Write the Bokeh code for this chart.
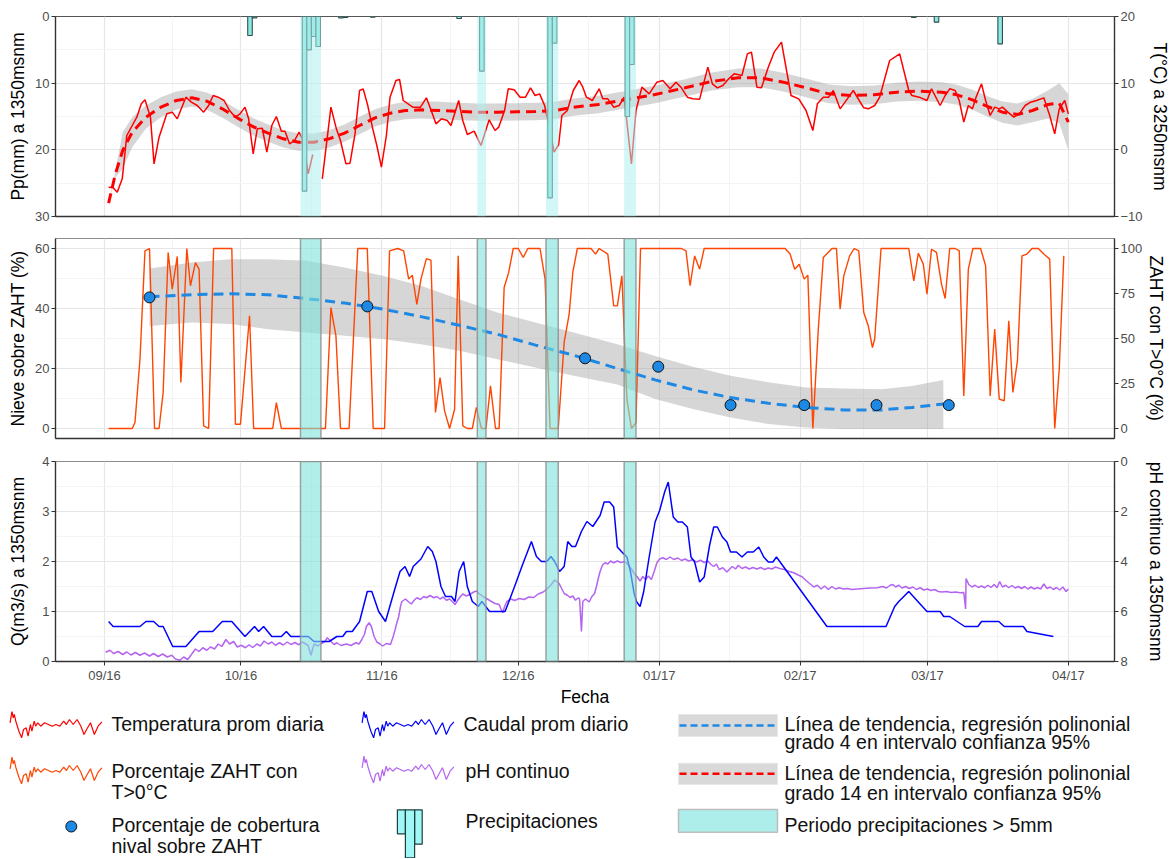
import pandas as pd
from bokeh.plotting import figure
from bokeh.layouts import column
from bokeh.models import Range1d, LinearAxis, FixedTicker, BoxAnnotation
from bokeh.embed import file_html
from bokeh.resources import INLINE
from bokeh.core.properties import value

NAN = float("nan")

# ---------------------------------------------------------------- data
ORIGIN = "2016-09-01"  # every x value below = days since this date
tick_dates = ["2016-09-01", "2016-10-01", "2016-11-01", "2016-12-01",
              "2017-01-01", "2017-02-01", "2017-03-01", "2017-04-01"]
tick_labels = ["09/16", "10/16", "11/16", "12/16", "01/17", "02/17", "03/17", "04/17"]

# daily mean temperature at 3250 masl (°C); NaN = missing
temp_pts = [(0.9, -5.6), (1.9, -5.7), (2.8, -6.35), (3.9, -4.35), (4.9, 2.15), (6.1, 3.65), (7.1, 4.9),
            (8.1, 6.9), (8.9, 7.5), (10.1, 4.9), (10.9, -2.1), (12.0, 1.9), (13.7, 5.4), (14.9, 5.65),
            (16.0, 4.65), (17.9, 7.9), (19.1, 7.15), (20.4, 6.65), (21.8, 5.65), (22.9, 6.65), (23.9, 8.15),
            (25.0, 7.9), (26.3, 7.4), (27.5, 5.9), (28.8, 4.9), (29.8, 5.4), (30.9, 6.4), (31.7, 4.65),
            (32.7, -0.6), (33.6, 3.15), (34.7, 3.25), (35.7, -0.35), (36.8, 3.65), (37.8, 5.0), (38.9, 2.8),
            (39.7, 2.8), (40.7, 0.9), (41.8, 1.4), (42.8, 2.65), (43.7, 1.4), (44.8, -3.6), (45.8, -0.7),
            (46.8, NAN), (47.9, -4.35), (49.8, 6.4), (51.0, 3.15), (51.9, 1.4), (53.1, -2.1), (54.0, -2.0),
            (55.1, 2.4), (56.1, 8.9), (56.9, 9.15), (57.9, 6.65), (59.0, 3.15), (59.9, 0.65), (60.9, -2.6),
            (62.0, 2.15), (62.8, 7.9), (64.1, 10.4), (64.9, 10.55), (65.7, 7.4), (67.8, 6.4), (69.5, 6.4),
            (70.8, 7.8), (72.0, 5.65), (72.9, 3.9), (74.1, 4.65), (75.4, 4.4), (76.2, 3.65), (77.9, 7.4),
            (78.8, 4.4), (79.8, 2.3), (81.3, 2.8), (82.8, 0.65), (84.6, 4.5), (85.9, 2.9), (86.7, 3.4),
            (88.0, 5.9), (88.8, 9.15), (90.1, 9.0), (91.4, 7.9), (92.6, 7.9), (93.7, 9.3), (94.7, 8.15),
            (95.7, 8.4), (96.8, 6.65), (98.1, 2.5), (98.9, -0.35), (99.9, 0.8), (100.6, 5.15), (101.8, 5.9),
            (103.1, 8.9), (104.4, 10.4), (105.2, 9.4), (106.0, 7.9), (107.3, 7.4), (108.8, 9.15), (109.6, 7.65),
            (110.7, 7.65), (112.0, 6.4), (113.2, 6.65), (114.3, 7.9), (115.9, -2.1), (116.9, 5.9), (118.2, 9.4),
            (119.8, 8.4), (121.5, 10.15), (122.8, 10.4), (124.4, 9.15), (125.7, 10.15), (126.9, 9.3),
            (128.2, 7.9), (129.4, 7.65), (130.9, 7.6), (132.7, 12.4), (133.7, 9.9), (134.8, 9.3), (136.0, 9.65),
            (137.3, 10.65), (138.5, 11.4), (140.2, 11.15), (141.4, 14.4), (142.3, 14.65), (143.5, 9.4),
            (144.5, 9.3), (146.0, 12.4), (147.3, 14.65), (148.9, 16.15), (151.0, 8.15), (152.7, 7.65),
            (154.3, 5.9), (155.8, 2.9), (156.8, 6.9), (158.1, 7.9), (159.3, 7.9), (160.3, 8.9), (161.8, 6.15),
            (162.6, 6.9), (164.7, 8.9), (166.0, 7.4), (167.0, 6.3), (168.0, 6.15), (169.4, 6.65), (170.5, 7.9),
            (172.7, 13.4), (174.9, 14.4), (176.9, 8.9), (177.6, 8.15), (179.2, 7.9), (180.9, 7.4), (181.9, 9.15),
            (183.8, 6.65), (184.9, 8.15), (185.9, 9.15), (187.1, 8.9), (188.0, 7.4), (189.0, 4.15), (190.0, 6.65),
            (190.9, 6.15), (191.7, 7.9), (192.9, 9.9), (193.8, 7.4), (194.8, 5.15), (195.8, 6.4), (196.8, 6.15),
            (197.5, 6.4), (198.7, 5.65), (200.0, 4.9), (201.2, 5.4), (202.5, 6.65), (203.7, 7.15), (205.0, 7.4),
            (206.6, 7.8), (207.9, 5.15), (209.0, 2.4), (210.0, 6.15), (211.2, 7.4), (212.0, 5.4)]

# degree-14 trend of temperature and half width of its 95 % band
temp_trend_day = [0.9, 2.4, 4.0, 6.1, 9.1, 12.4, 15.8, 19.2, 22.5, 25.9, 29.2, 32.6, 36.0, 39.3, 42.7, 46.1,
                  49.4, 52.8, 56.1, 59.5, 62.9, 66.2, 69.6, 73.8, 78.0, 82.2, 86.4, 90.6, 94.8, 99.0, 103.2,
                  108.6, 114.4, 121.1, 127.7, 133.5, 139.4, 144.3, 149.3, 154.3, 159.3, 164.3, 169.3, 174.3,
                  179.2, 184.2, 187.5, 190.9, 194.2, 197.5, 200.8, 204.1, 207.5, 210.0, 212.0]
temp_trend = [-8.0, -3.6, -0.1, 2.65, 4.9, 6.4, 7.4, 7.8, 7.3, 6.15, 4.8, 3.5, 2.5, 1.65, 1.15, 1.15,
              1.65, 2.5, 3.65, 4.8, 5.5, 5.9, 6.0, 5.9, 5.75, 5.65, 5.65, 5.7, 5.75, 5.9, 6.4,
              6.8, 7.5, 8.3, 9.3, 10.25, 10.8, 10.8, 10.15, 9.3, 8.4, 8.15, 8.25, 8.65,
              8.8, 8.65, 8.25, 7.5, 6.5, 5.65, 5.3, 5.9, 6.8, 7.0, 4.15]
temp_trend_se = [0, 0.5, 2.75, 2.25, 1.75, 1.5, 1.35, 1.3, 1.3, 1.3, 1.3, 1.3, 1.3, 1.3, 1.3, 1.3,
                 1.3, 1.3, 1.3, 1.3, 1.3, 1.3, 1.3, 1.3, 1.3, 1.3, 1.3, 1.3, 1.3, 1.3, 1.3,
                 1.3, 1.3, 1.3, 1.3, 1.35, 1.4, 1.4, 1.4, 1.4, 1.4, 1.4, 1.4, 1.4,
                 1.45, 1.5, 1.5, 1.5, 1.55, 1.6, 1.65, 1.75, 2.1, 3.0, 4.2]

# daily precipitation at 1350 masl (mm)
precip_day = [32, 33, 44, 45, 46, 47, 52, 53, 59, 78, 83, 98, 99, 115, 116, 178, 183, 197]
precip_mm = [2.85, 0.2, 26.2, 5.0, 3.0, 4.5, 0.2, 0.15, 0.1, 0.3, 8.2, 27.2, 4.0, 15.0, 7.2, 0.15, 0.85, 4.1]

# periods with precipitation > 5 mm
band_start = [43.1, 82.0, 97.1, 114.3]
band_end = [47.6, 83.9, 99.8, 116.9]

# share of ZAHT with T > 0 °C (%)
zaht_pts = [(0.9, 0), (6.1, 0), (6.7, 3.3), (7.8, 38.5), (8.9, 98.7), (9.9, 100), (11.0, 0), (12.0, 0),
            (12.9, 20), (14.0, 97.8), (14.9, 77.4), (16.0, 95.6), (16.8, 25.6), (18.1, 100), (18.9, 79.3),
            (20.0, 92.2), (20.8, 88.5), (21.8, 1.5), (22.9, 0), (24.0, 100), (28.0, 100), (28.8, 2.4),
            (29.9, 2.4), (31.9, 62.6), (32.8, 0), (37.0, 0), (37.8, 14.4), (38.9, 0), (48.6, 0), (49.8, 67.2),
            (50.9, 51.5), (51.9, 0), (53.8, 0), (55.7, 100), (57.8, 100), (59.1, 0), (61.6, 0), (62.7, 98.7),
            (64.5, 100), (65.8, 98.7), (66.9, 83), (67.7, 85.2), (68.7, 69), (69.6, 83), (70.8, 94.4),
            (71.8, 93.5), (72.8, 8.9), (73.8, 28.3), (74.8, 9.8), (75.9, 0), (77.0, 10.7), (77.8, 96),
            (78.8, 1.5), (79.8, 0), (80.9, 0), (81.8, 11.7), (82.9, 0), (83.9, 0), (84.9, 23.7), (86.0, 0),
            (86.8, 0), (87.9, 78.3), (88.9, 86.7), (89.9, 100), (91.0, 100), (92.1, 95), (93.1, 100),
            (95.8, 100), (96.9, 83), (98.0, 0), (99.8, 0), (101.1, 47.8), (102.2, 63.5), (103.0, 86.7),
            (104.0, 100), (107.0, 100), (108.0, 96.9), (108.8, 100), (110.7, 96.9), (112.0, 68.1),
            (112.8, 68.1), (113.8, 84.8), (114.9, 16.3), (115.9, 0), (116.9, 3.3), (117.9, 100), (126.9, 100),
            (127.9, 98.7), (128.8, 79.3), (129.8, 95.9), (130.9, 88.5), (131.9, 100), (149.7, 100),
            (150.8, 96.9), (151.8, 88.5), (152.8, 91.3), (153.9, 83), (154.7, 85.2), (155.8, 0), (157.0, 55.2),
            (158.1, 95), (160.0, 100), (161.0, 100), (161.8, 66.3), (162.6, 84.8), (163.9, 95.9), (164.9, 100),
            (165.9, 98.7), (167.0, 64.4), (168.0, 57), (168.9, 45), (169.4, 49.6), (170.8, 100), (176.9, 100),
            (178.0, 82), (179.0, 97.4), (180.1, 91.3), (180.9, 74.6), (181.9, 99.6), (183.0, 97.8),
            (184.1, 80.2), (184.9, 72.2), (185.9, 100), (187.1, 100), (188.0, 98.7), (189.0, 18.1),
            (190.0, 88.5), (191.0, 100), (192.7, 100), (193.8, 90.4), (194.8, 18.1), (195.8, 55.2),
            (196.8, 16.3), (197.9, 15.4), (198.9, 59.8), (199.8, 20), (200.8, 37.6), (201.8, 95.9),
            (202.9, 96.9), (204.0, 100), (205.4, 100), (206.6, 96.9), (207.9, 94.1), (209.0, 0), (210.0, 33),
            (211.0, 95.9)]

# snow cover over ZAHT (%), 16-day images
snow_day = [9.9, 57.8, 105.7, 121.8, 137.7, 153.9, 169.8, 185.7]
snow_pct = [43.7, 40.7, 23.4, 20.6, 7.8, 7.8, 7.8, 7.8]

# degree-4 trend of snow cover with its 95 % band
snow_trend_day = [9.9, 19.2, 27.6, 36.0, 44.4, 52.8, 61.2, 69.6, 78.0, 86.4, 94.8, 103.2, 112.8, 121.1,
                  129.4, 137.7, 146.0, 154.3, 162.6, 170.9, 177.6, 184.5]
snow_trend = [43.9, 44.6, 44.9, 44.6, 43.3, 41.8, 39.8, 37.3, 34.4, 31.4, 27.8, 24.4, 20.0, 16.2,
              12.9, 10.3, 8.4, 7.0, 6.2, 6.2, 7.0, 8.2]
snow_upper = [53.3, 55.3, 56.4, 56.4, 55.9, 53.7, 50.9, 47.6, 43.1, 38.7, 35.3, 32.0, 28.1, 24.2,
              20.6, 17.6, 15.4, 13.7, 13.3, 13.1, 14.2, 16.2]
snow_lower = [34.2, 35.3, 34.8, 33.1, 32.0, 30.9, 29.8, 28.1, 25.9, 23.1, 20.3, 17.6, 14.7, 9.8,
              6.5, 3.7, 1.5, 0.3, -0.2, -0.2, -0.2, -0.2]

# daily mean discharge at 1350 masl (m3/s)
q_pts = [(0.9, 0.8), (1.9, 0.7), (7.8, 0.7), (9.1, 0.8), (10.8, 0.8), (12.0, 0.7), (12.9, 0.7), (15.0, 0.3),
         (17.9, 0.3), (20.8, 0.6), (23.8, 0.6), (25.9, 0.8), (28.0, 0.8), (30.9, 0.5), (33.0, 0.7), (33.9, 0.6),
         (35.0, 0.7), (36.8, 0.5), (38.9, 0.5), (40.0, 0.6), (41.0, 0.5), (44.8, 0.5), (46.1, 0.4), (49.4, 0.4),
         (51.1, 0.5), (52.4, 0.5), (53.2, 0.6), (54.5, 0.6), (56.1, 0.8), (57.8, 1.4), (58.8, 1.4), (60.3, 1.0),
         (61.8, 0.8), (63.7, 1.4), (65.0, 1.8), (66.1, 1.9), (67.1, 1.7), (67.9, 1.9), (69.6, 2.05), (71.1, 2.3),
         (72.1, 2.2), (72.9, 2.0), (74.0, 1.5), (75.0, 1.3), (76.3, 1.3), (77.1, 1.2), (78.0, 1.8), (79.0, 2.0),
         (79.8, 1.5), (80.9, 1.2), (82.2, 1.1), (83.0, 1.2), (84.7, 1.0), (88.1, 1.0), (90.2, 1.5), (91.8, 1.9),
         (93.9, 2.4), (95.0, 2.1), (96.1, 2.0), (97.3, 2.0), (98.2, 2.1), (99.0, 2.0), (100.1, 1.8),
         (101.1, 1.9), (101.9, 2.4), (102.8, 2.3), (103.6, 2.3), (104.9, 2.6), (106.1, 2.8), (107.4, 2.7),
         (109.0, 2.92), (109.9, 3.19), (111.1, 3.19), (112.0, 3.09), (112.8, 2.29), (113.8, 2.19),
         (114.9, 2.09), (115.7, 1.79), (116.5, 1.36), (117.0, 1.2), (117.8, 1.1), (118.6, 1.4), (119.8, 2.09),
         (121.1, 2.79), (122.1, 3.02), (123.2, 3.39), (124.0, 3.59), (125.1, 2.89), (126.1, 2.79),
         (127.1, 2.79), (128.2, 2.69), (129.0, 2.09), (129.8, 1.99), (130.9, 1.59), (131.9, 1.69),
         (133.1, 2.33), (134.0, 2.69), (134.8, 2.69), (135.9, 2.49), (136.9, 2.39), (137.7, 2.19),
         (139.0, 2.19), (140.2, 2.09), (141.4, 2.19), (142.7, 2.19), (143.9, 2.29), (145.0, 2.09),
         (146.0, 1.99), (147.0, 1.99), (147.8, 2.09), (158.9, 0.7), (171.9, 0.7), (173.8, 1.1), (174.7, 1.2),
         (176.9, 1.4), (180.9, 1.0), (183.8, 1.0), (184.6, 0.9), (185.9, 0.9), (189.2, 0.7), (192.1, 0.7),
         (192.9, 0.8), (196.7, 0.8), (197.9, 0.7), (202.1, 0.7), (202.9, 0.6), (208.7, 0.5)]

# continuous pH at 1350 masl (jagged sub-daily record)
ph_pts = [(0.25, 7.63), (1.2, 7.55), (2.0, 7.68), (3.0, 7.6), (4.0, 7.72), (4.9, 7.62), (5.8, 7.74),
          (6.8, 7.64), (7.8, 7.75), (8.8, 7.66), (9.9, 7.78), (10.8, 7.68), (11.8, 7.8), (12.8, 7.7),
          (13.8, 7.82), (14.8, 7.75), (15.6, 7.9), (16.6, 7.95), (17.4, 7.82), (18.3, 7.92), (19.2, 7.7),
          (20.0, 7.5), (20.8, 7.6), (21.6, 7.45), (22.5, 7.55), (23.3, 7.42), (24.2, 7.5), (25.0, 7.3),
          (25.8, 7.4), (26.7, 7.12), (27.5, 7.3), (28.4, 7.2), (29.2, 7.42), (30.1, 7.35), (31.0, 7.45),
          (31.8, 7.33), (32.6, 7.44), (33.5, 7.3), (34.3, 7.38), (35.1, 7.18), (36.0, 7.3), (36.8, 7.22),
          (37.6, 7.35), (38.5, 7.25), (39.3, 7.34), (40.2, 7.22), (41.0, 7.32), (41.9, 7.24), (42.7, 7.33),
          (43.5, 7.22), (44.3, 7.3), (44.8, 7.36), (45.4, 7.75), (46.1, 7.3), (46.9, 7.38), (47.7, 7.28),
          (48.5, 7.2), (49.0, 7.05), (49.8, 7.2), (50.5, 7.32), (51.1, 7.25), (52.0, 7.36), (53.2, 7.3),
          (54.2, 7.36), (55.3, 7.25), (56.0, 7.3), (56.6, 7.12), (57.2, 6.9), (57.6, 6.6), (58.2, 6.45),
          (58.7, 6.6), (59.3, 7.0), (59.9, 7.22), (60.6, 7.3), (61.2, 7.38), (62.0, 7.28), (62.9, 7.32),
          (63.5, 7.0), (63.9, 6.74), (64.3, 6.45), (64.7, 6.21), (65.1, 5.8), (65.4, 5.6), (66.2, 5.5),
          (66.9, 5.62), (67.5, 5.7), (68.1, 5.55), (68.7, 5.45), (69.5, 5.52), (70.2, 5.4), (70.8, 5.45),
          (71.6, 5.36), (72.4, 5.45), (73.1, 5.4), (73.8, 5.5), (74.5, 5.42), (75.2, 5.55), (75.9, 5.5),
          (76.6, 5.62), (77.1, 5.72), (77.7, 5.55), (78.2, 5.42), (78.8, 5.3), (79.6, 5.38), (80.5, 5.3),
          (81.2, 5.22), (81.8, 5.18), (82.5, 5.3), (83.4, 5.42), (84.2, 5.5), (85.1, 5.6), (85.9, 5.68),
          (86.8, 5.72), (87.2, 5.9), (87.6, 6.05), (88.0, 5.8), (88.5, 5.6), (89.4, 5.5), (90.2, 5.56),
          (91.2, 5.48), (92.3, 5.52), (93.3, 5.42), (94.4, 5.44), (95.4, 5.3), (96.5, 5.22), (97.3, 5.1),
          (98.2, 4.94), (99.0, 4.74), (100.0, 4.88), (100.6, 5.1), (101.1, 5.28), (101.8, 5.35), (102.4, 5.44),
          (103.0, 5.38), (103.6, 5.55), (104.2, 5.45), (104.5, 5.5), (104.9, 6.8), (105.2, 5.6), (105.8, 5.5),
          (106.6, 5.62), (107.2, 5.4), (107.8, 5.28), (108.2, 5.0), (108.6, 4.68), (109.0, 4.4), (109.5, 4.15),
          (110.1, 4.05), (110.7, 4.1), (111.3, 3.98), (112.0, 4.05), (112.8, 3.98), (113.6, 4.04), (114.4, 4.0),
          (115.3, 4.15), (115.9, 4.3), (116.5, 4.48), (117.2, 4.62), (117.8, 4.78), (118.4, 4.6), (119.0, 4.72),
          (119.6, 4.58), (120.3, 4.72), (120.9, 4.4), (121.5, 4.05), (122.1, 3.9), (122.8, 3.85), (123.6, 3.92),
          (124.4, 3.82), (125.2, 3.92), (126.1, 3.86), (126.9, 3.96), (127.7, 3.9), (128.5, 3.98), (129.4, 3.92),
          (130.2, 4.02), (131.1, 3.95), (131.9, 4.04), (132.7, 3.98), (133.4, 4.12), (134.0, 4.2), (134.6, 4.1),
          (135.2, 4.32), (136.0, 4.25), (136.9, 4.42), (137.5, 4.3), (138.1, 4.2), (138.8, 4.3), (139.4, 4.15),
          (140.2, 4.28), (141.0, 4.22), (141.8, 4.3), (142.6, 4.24), (143.5, 4.3), (144.3, 4.24), (145.2, 4.32),
          (146.0, 4.26), (146.8, 4.3), (147.6, 4.22), (148.5, 4.28), (149.5, 4.32), (150.6, 4.4), (151.6, 4.45),
          (152.7, 4.55), (153.5, 4.62), (154.3, 4.76), (155.1, 4.88), (156.0, 5.02), (156.8, 4.95), (157.6, 5.1),
          (158.4, 4.98), (159.2, 5.12), (160.0, 5.0), (160.8, 5.1), (161.6, 5.05), (162.5, 5.1), (163.4, 5.08),
          (164.3, 5.12), (165.5, 5.1), (167.0, 5.08), (168.5, 5.06), (170.0, 5.05), (171.2, 5.0), (172.0, 5.06),
          (172.8, 4.95), (173.4, 4.92), (174.0, 5.02), (174.7, 4.95), (175.4, 5.06), (176.2, 5.0), (177.0, 5.08),
          (177.8, 5.02), (178.6, 5.12), (179.4, 5.05), (180.2, 5.14), (181.0, 5.1), (181.8, 5.16), (182.6, 5.12),
          (183.4, 5.2), (184.2, 5.22), (185.2, 5.2), (186.2, 5.24), (187.2, 5.22), (188.2, 5.25), (189.0, 5.24),
          (189.4, 5.9), (189.5, 4.68), (190.1, 4.92), (190.8, 5.02), (191.5, 4.95), (192.2, 5.04), (192.9, 4.98),
          (193.6, 5.05), (194.3, 4.95), (195.0, 5.04), (195.7, 4.92), (196.3, 5.05), (196.9, 4.8), (197.5, 5.02),
          (198.2, 4.95), (198.9, 5.05), (199.6, 4.96), (200.3, 5.06), (201.0, 5.0), (201.7, 5.08), (202.4, 5.0),
          (203.1, 5.1), (203.8, 5.02), (204.5, 5.1), (205.2, 5.04), (205.9, 5.1), (206.6, 4.9), (207.3, 5.08),
          (208.0, 5.02), (208.7, 5.12), (209.4, 5.04), (210.1, 5.14), (210.8, 5.02), (211.5, 5.2), (212.0, 5.1)]

# legend texts
leg_temp = "Temperatura prom diaria"
leg_zaht = ["Porcentaje ZAHT con", "T>0°C"]
leg_snow = ["Porcentaje de cobertura", "nival sobre ZAHT"]
leg_q = "Caudal prom diario"
leg_ph = "pH continuo"
leg_pp = "Precipitaciones"
leg_trend4 = ["Línea de tendencia, regresión polinonial", "grado 4 en intervalo confianza 95%"]
leg_trend14 = ["Línea de tendencia, regresión polinonial", "grado 14 en intervalo confianza 95%"]
leg_band = "Periodo precipitaciones > 5mm"

# shape of the squiggle used as legend key for the line series
wiggle_dx = [0, 1.9, 3.1, 4.2, 5.7, 8.8, 11.5, 13.4, 16.1, 18.0, 20.3, 21.8, 24.1, 25.6, 27.6, 30.6, 34.4,
             38.3, 42.1, 45.9, 49.7, 53.6, 56.3, 59.3, 63.1, 67.0, 70.8, 73.9, 76.5, 80.4, 84.2, 88.0, 91.8]
wiggle_dy = [-1.7, -13.3, -6.7, -10, -3.3, 6.7, 13.3, 5, 3.3, 11.7, 0, 6.7, -3.3, 1.7, -1.7, 1.7, -1.7,
             0, 1.7, 0, 1.7, -3.3, 0, -5, 0, -5, 1.7, 10, 5, -1.7, 10, 1.7, -2.7]

# ---------------------------------------------------------------- derived
origin = pd.Timestamp(ORIGIN)
tick_day = [int((pd.Timestamp(d) - origin).days) for d in tick_dates]
minor_day = [(a + b) / 2 for a, b in zip(tick_day[:-1], tick_day[1:])]
temp_day = [p[0] for p in temp_pts]; temp_c = [p[1] for p in temp_pts]
zaht_day = [p[0] for p in zaht_pts]; zaht_pct = [p[1] for p in zaht_pts]
q_day = [p[0] for p in q_pts]; q_val = [p[1] for p in q_pts]
ph_day = [p[0] for p in ph_pts]; ph_val = [p[1] for p in ph_pts]
temp_lo = [t - s for t, s in zip(temp_trend, temp_trend_se)]
temp_hi = [t + s for t, s in zip(temp_trend, temp_trend_se)]

# ---------------------------------------------------------------- style
FONT = "Liberation Sans"
W = 1172
AX = "#333333"
GRID = "#E6E6E6"
GRID_MINOR = "#F4F4F4"
C_TEMP = "#FF0000"
C_ZAHT = "#FF4500"
C_SNOW = "#1E88E5"
C_Q = "#0000FF"
C_PH = "#B464F0"
C_RIBBON = "#999999"

x_rng = Range1d(-10.78, 222.15)


def panel(height, b_top, b_bottom, y_rng, outline="#8C8C8C"):
    p = figure(width=W, height=height, x_range=x_rng, y_range=y_rng,
               output_backend="svg", toolbar_location=None,
               x_axis_location="below", y_axis_location=None,
               min_border_left=55, min_border_right=56,
               min_border_top=b_top, min_border_bottom=b_bottom)
    p.outline_line_color = outline
    p.outline_line_width = 1
    p.background_fill_color = "white"
    p.border_fill_color = "white"
    p.xgrid.ticker = FixedTicker(ticks=tick_day, minor_ticks=minor_day)
    p.xgrid.grid_line_color = GRID
    p.xgrid.grid_line_width = 1.2
    p.xgrid.minor_grid_line_color = GRID_MINOR
    ax = p.xaxis[0]
    ax.ticker = FixedTicker(ticks=[])
    ax.axis_line_color = AX
    ax.axis_line_width = 1.4
    ax.major_tick_line_color = AX
    ax.major_tick_in = 0
    ax.major_tick_out = 0
    ax.minor_tick_in = 0
    ax.minor_tick_out = 0
    ax.major_label_standoff = 0
    return p


def ygrid(p, ticks, minor):
    p.ygrid.ticker = FixedTicker(ticks=ticks, minor_ticks=minor)
    p.ygrid.grid_line_color = GRID
    p.ygrid.grid_line_width = 1.2
    p.ygrid.minor_grid_line_color = GRID_MINOR


def y_axis(p, side, rng_name, ticks, label, standoff):
    ax = LinearAxis(y_range_name=rng_name, ticker=FixedTicker(ticks=ticks), axis_label=label)
    ax.axis_line_color = AX
    ax.axis_line_width = 1.4
    ax.major_tick_line_color = AX
    ax.major_tick_out = 4
    ax.major_tick_in = 0
    ax.minor_tick_out = 0
    ax.minor_tick_in = 0
    ax.major_label_text_font = FONT
    ax.major_label_text_font_size = "13px"
    ax.major_label_text_color = "#4D4D4D"
    ax.major_label_standoff = 2
    ax.axis_label_text_font = FONT
    ax.axis_label_text_font_size = "17.5px"
    ax.axis_label_text_font_style = "normal"
    ax.axis_label_text_color = "#000000"
    ax.axis_label_standoff = standoff
    p.add_layout(ax, side)


def bands(p, color, alpha, line):
    for s, e in zip(band_start, band_end):
        p.add_layout(BoxAnnotation(left=s, right=e, fill_color=color, fill_alpha=alpha,
                                   line_color=line, line_alpha=0.8, line_width=1.5,
                                   level="annotation"))


# ---------------------------------------------------------------- panel 1
p1 = panel(227, 16, 11, Range1d(-10, 20), outline="#555555")
p1.extra_y_ranges = {"pp": Range1d(30, 0)}
ygrid(p1, [-10, 0, 10, 20], [-5, 5, 15])
y_axis(p1, "left", "pp", [0, 10, 20, 30], "Pp(mm) a 1350msnm", 4)
y_axis(p1, "right", "default", [-10, 0, 10, 20], "T(°C) a 3250msnm", 4)
p1.varea(x=temp_trend_day, y1=temp_lo, y2=temp_hi, fill_color=C_RIBBON, fill_alpha=0.4)
p1.line(temp_day, temp_c, line_color=C_TEMP, line_width=1.5)
p1.line(temp_trend_day, temp_trend, line_color=C_TEMP, line_width=3, line_dash="10 6")
bands(p1, "#AEEEEE", 0.55, None)
p1.vbar(x=precip_day, width=1, top=0, bottom=precip_mm, y_range_name="pp",
        fill_color="#8EE8E2", line_color="#2F4F4F", line_width=1.1)

# ---------------------------------------------------------------- panel 2
p2 = panel(222, 11, 11, Range1d(-10 / 3, 60 + 10 / 3))
p2.extra_y_ranges = {"zaht": Range1d(-50 / 9, 100 + 50 / 9)}
ygrid(p2, [0, 20, 40, 60], [10, 30, 50])
y_axis(p2, "left", "default", [0, 20, 40, 60], "Nieve sobre ZAHT (%)", 4)
y_axis(p2, "right", "zaht", [0, 25, 50, 75, 100], "ZAHT con T>0°C (%)", 1)
p2.varea(x=snow_trend_day, y1=snow_lower, y2=snow_upper, fill_color=C_RIBBON, fill_alpha=0.4)
p2.line(zaht_day, zaht_pct, y_range_name="zaht", line_color=C_ZAHT, line_width=1.4)
bands(p2, "#7FE3DA", 0.6, "#8C8C8C")
p2.line(snow_trend_day, snow_trend, line_color=C_SNOW, line_width=3, line_dash="10 6")
p2.scatter(snow_day, snow_pct, size=11, fill_color=C_SNOW, line_color="#111111", line_width=1)

# ---------------------------------------------------------------- panel 3
p3 = panel(262, 12, 50, Range1d(0, 4))
p3.extra_y_ranges = {"ph": Range1d(8, 0)}
ygrid(p3, [0, 1, 2, 3, 4], [0.5, 1.5, 2.5, 3.5])
y_axis(p3, "left", "default", [0, 1, 2, 3, 4], "Q(m3/s) a 1350msnm", 11)
y_axis(p3, "right", "ph", [0, 2, 4, 6, 8], "pH continuo a 1350msnm", 15)
xa = p3.xaxis[0]
xa.ticker = FixedTicker(ticks=tick_day)
xa.major_tick_out = 4
xa.major_label_text_font_size = "13px"
xa.major_label_text_font = FONT
xa.major_label_text_color = "#4D4D4D"
xa.major_label_standoff = 2
xa.major_label_overrides = {d: lab for d, lab in zip(tick_day, tick_labels)}
xa.axis_label = "Fecha"
xa.axis_label_text_font = FONT
xa.axis_label_text_font_size = "17.5px"
xa.axis_label_text_font_style = "normal"
xa.axis_label_text_color = "#000000"
xa.axis_label_standoff = 1
bands(p3, "#7FE3DA", 0.6, "#8C8C8C")
p3.line(ph_day, ph_val, y_range_name="ph", line_color=C_PH, line_width=1.5)
p3.line(q_day, q_val, line_color=C_Q, line_width=1.5)

# ---------------------------------------------------------------- legend
LH = 147
lg = figure(width=W, height=LH, x_range=Range1d(0, W), y_range=Range1d(LH, 0),
            output_backend="svg", toolbar_location=None,
            x_axis_location=None, y_axis_location=None, min_border=0)
try:
    lg.frame_align = False  # keep the legend canvas free of the panels' frame alignment
except Exception:
    pass
lg.xgrid.visible = False
lg.ygrid.visible = False
lg.outline_line_color = None

for x0, y0, col in [(9.6, 13, C_TEMP), (361.6, 13, C_Q), (9.6, 59, C_ZAHT), (361.6, 58, C_PH)]:
    lg.line([x0 + d for d in wiggle_dx], [y0 + d for d in wiggle_dy], line_color=col, line_width=1.2)

# trend keys
lg.quad(left=[678, 678], right=[777, 777], top=[3, 51.7], bottom=[25, 73],
        fill_color="#D9D9D9", line_color="#E8E8E8", line_width=1)
lg.line([679, 776], [14, 14], line_color=C_SNOW, line_width=2.5, line_dash="7 4")
lg.line([679, 776], [62.3, 62.3], line_color=C_TEMP, line_width=2.5, line_dash="7 4")
# band key
lg.quad(left=[678], right=[777], top=[98], bottom=[120.7],
        fill_color="#AEEEEA", line_color="#BDBDBD", line_width=1.5)
# snow-cover point key
lg.scatter([70.8], [115], size=11, fill_color=C_SNOW, line_color="#111111", line_width=1)
# precipitation key
lg.quad(left=[396.9, 414.1, 404.9], right=[404.9, 421.7, 414.1], top=[98.3, 98.3, 98.3],
        bottom=[122.3, 132.7, 146.3], fill_color="#9FF8F5", line_color="#1F3F3F", line_width=1.2)

txt_x = [111, 111, 111, 111, 111, 463, 465, 465, 784, 784, 784, 784, 784]
txt_y = [12.3, 59.7, 80.7, 113.3, 134, 12.3, 59.7, 109, 12.3, 30.7, 61.7, 81.7, 113.3]
txt = [leg_temp, leg_zaht[0], leg_zaht[1], leg_snow[0], leg_snow[1], leg_q, leg_ph, leg_pp,
       leg_trend4[0], leg_trend4[1], leg_trend14[0], leg_trend14[1], leg_band]
lg.text(x=txt_x, y=txt_y, text=txt, text_font=value(FONT), text_font_size=value("19.5px"),
        text_baseline="middle", text_align="left", text_color="#111111")

layout = column(p1, p2, p3, lg, spacing=0)
open("out.html", "w").write(file_html(layout, INLINE))
